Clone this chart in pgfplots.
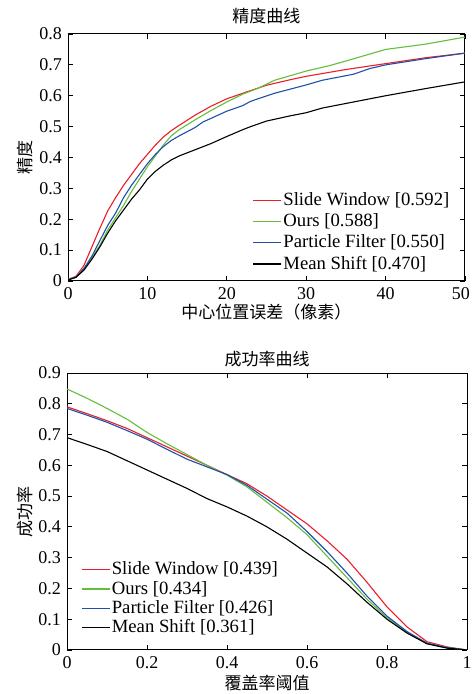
\documentclass[border=0pt]{standalone}
\usepackage{fontspec}
\setmainfont{Liberation Serif}
\newfontfamily\cjk{Noto Sans CJK SC}
\usepackage{pgfplots}
\pgfplotsset{compat=1.18}
\definecolor{cred}{RGB}{235,30,40}
\definecolor{cgreen}{RGB}{100,190,60}
\definecolor{cblue}{RGB}{30,80,170}
\begin{document}
\fontsize{18}{21}\selectfont
\begin{tikzpicture}
\path[use as bounding box] (0pt,0pt) rectangle (472pt,694pt);
\pgfplotsset{
  myax/.style={
    scale only axis, anchor=south west,
    axis line style={line width=1pt},
    tick style={line width=0.8pt, black},
    major tick length=5pt,
    tick align=inside,
    /pgf/number format/assume math mode=true,
    ticklabel style={font=\fontsize{18}{21}\selectfont},
    title style={font=\cjk\fontsize{17}{20}\selectfont, at={(rel axis cs:0.5,1)}, anchor=south, inner sep=0pt, yshift=4pt},
    xlabel style={font=\cjk\fontsize{17}{20}\selectfont, at={(rel axis cs:0.5,0)}, anchor=north, inner sep=0pt, yshift=-23pt},
    ylabel style={font=\cjk\fontsize{17}{20}\selectfont, anchor=south, inner sep=0pt},
    legend cell align=left,
    legend style={draw=none, fill=none, inner sep=0pt, font=\fontsize{18.7}{21}\selectfont,
      nodes={inner sep=1.5pt}},
    legend image code/.code={\draw[#1] (-1pt,0pt) -- (27pt,0pt);},
    every axis plot/.append style={line width=1.1pt, no markers},
  }
}
\begin{axis}[myax, at={(68pt,413pt)}, width=397pt, height=247pt,
  xmin=0, xmax=50, ymin=0, ymax=0.8,
  xtick={0,10,...,50}, ytick={0,0.1,...,0.8},
  xticklabels={0,10,20,30,40,\hspace*{-8pt}50},
  yticklabels={0,0.1,0.2,0.3,0.4,0.5,0.6,0.7,0.8},
  title={精度曲线}, xlabel={中心位置误差（像素）}, ylabel={精度},
  ylabel style={at={(axis description cs:-0.088,0.5)}},
  legend style={at={(axis description cs:0.465,0.365)}, anchor=north west, row sep=2.5pt},
]
\addplot[cred] coordinates {(0,0.005)(1,0.015)(2,0.05)(3,0.11)(4,0.17)(5,0.227)(6,0.27)(7,0.31)(8,0.345)(9,0.38)(10,0.41)(11,0.44)(12,0.466)(13,0.487)(14,0.504)(16,0.537)(18,0.566)(20,0.59)(22,0.608)(25,0.634)(28,0.652)(30,0.663)(35,0.685)(40,0.704)(45,0.723)(50,0.738)};
\addplot[cgreen] coordinates {(0,0.005)(1,0.012)(2,0.04)(3,0.075)(4,0.115)(5,0.165)(6,0.205)(7,0.245)(8,0.29)(9,0.33)(10,0.37)(11,0.405)(12,0.44)(13,0.47)(14,0.49)(16,0.522)(18,0.552)(20,0.58)(22,0.605)(24,0.625)(26,0.65)(28,0.665)(30,0.68)(33,0.698)(36,0.72)(40,0.75)(45,0.767)(50,0.79)};
\addplot[cblue] coordinates {(0,0.005)(1,0.012)(2,0.04)(3,0.08)(4,0.13)(5,0.18)(6,0.22)(7,0.27)(8,0.31)(9,0.345)(10,0.38)(11,0.41)(12,0.435)(13,0.455)(14,0.47)(16,0.497)(17,0.515)(20,0.55)(22,0.568)(23,0.582)(26,0.608)(30,0.635)(32,0.65)(36,0.67)(38,0.688)(40,0.70)(45,0.72)(50,0.738)};
\addplot[black] coordinates {(0,0.003)(1,0.012)(2,0.035)(3,0.07)(4,0.11)(5,0.155)(6,0.195)(7,0.23)(8,0.265)(9,0.295)(10,0.33)(11,0.355)(12,0.375)(13,0.392)(14,0.405)(16,0.425)(18,0.445)(20,0.468)(22,0.49)(23,0.5)(25,0.518)(28,0.535)(30,0.545)(32,0.56)(36,0.58)(40,0.6)(45,0.623)(50,0.645)};
\legend{Slide Window [0.592], Ours [0.588], Particle Filter [0.550], Mean Shift [0.470]}
\end{axis}
\begin{axis}[myax, at={(67pt,44pt)}, width=400pt, height=277pt,
  xmin=0, xmax=1, ymin=0, ymax=0.9,
  xtick={0,0.2,...,1}, ytick={0,0.1,...,0.9},
  xticklabels={0,0.2,0.4,0.6,0.8,1},
  yticklabels={0,0.1,0.2,0.3,0.4,0.5,0.6,0.7,0.8,0.9},
  title={成功率曲线}, xlabel={覆盖率阈值}, ylabel={成功率},
  title style={yshift=-4pt},
  xlabel style={yshift=-2pt},
  ylabel style={at={(axis description cs:-0.085,0.5)}},
  legend style={at={(axis description cs:0.035,0.324)}, anchor=north west, row sep=0.5pt},
]
\addplot[cred] coordinates {(0,0.79)(0.05,0.768)(0.1,0.745)(0.15,0.72)(0.2,0.69)(0.25,0.66)(0.3,0.63)(0.35,0.6)(0.4,0.57)(0.45,0.54)(0.5,0.5)(0.55,0.455)(0.6,0.41)(0.65,0.355)(0.7,0.295)(0.75,0.22)(0.8,0.14)(0.85,0.075)(0.9,0.027)(0.95,0.01)(1,0.0)};
\addplot[cgreen] coordinates {(0,0.848)(0.05,0.818)(0.1,0.785)(0.15,0.75)(0.2,0.707)(0.25,0.67)(0.3,0.635)(0.35,0.6)(0.4,0.568)(0.45,0.53)(0.5,0.48)(0.55,0.43)(0.6,0.375)(0.65,0.305)(0.7,0.235)(0.75,0.165)(0.8,0.105)(0.85,0.058)(0.9,0.022)(0.95,0.008)(1,0.0)};
\addplot[cblue] coordinates {(0,0.785)(0.05,0.763)(0.1,0.74)(0.15,0.713)(0.2,0.685)(0.25,0.652)(0.3,0.62)(0.35,0.595)(0.4,0.57)(0.45,0.535)(0.5,0.49)(0.55,0.445)(0.6,0.385)(0.65,0.32)(0.7,0.25)(0.75,0.175)(0.8,0.11)(0.85,0.06)(0.9,0.022)(0.95,0.008)(1,0.0)};
\addplot[black] coordinates {(0,0.69)(0.05,0.668)(0.1,0.645)(0.15,0.615)(0.2,0.585)(0.25,0.555)(0.3,0.525)(0.35,0.492)(0.4,0.465)(0.45,0.435)(0.5,0.4)(0.55,0.36)(0.6,0.315)(0.65,0.27)(0.7,0.215)(0.75,0.155)(0.8,0.1)(0.85,0.055)(0.9,0.02)(0.95,0.006)(1,0.0)};
\legend{Slide Window [0.439], Ours [0.434], Particle Filter [0.426], Mean Shift [0.361]}
\end{axis}
\end{tikzpicture}
\end{document}
